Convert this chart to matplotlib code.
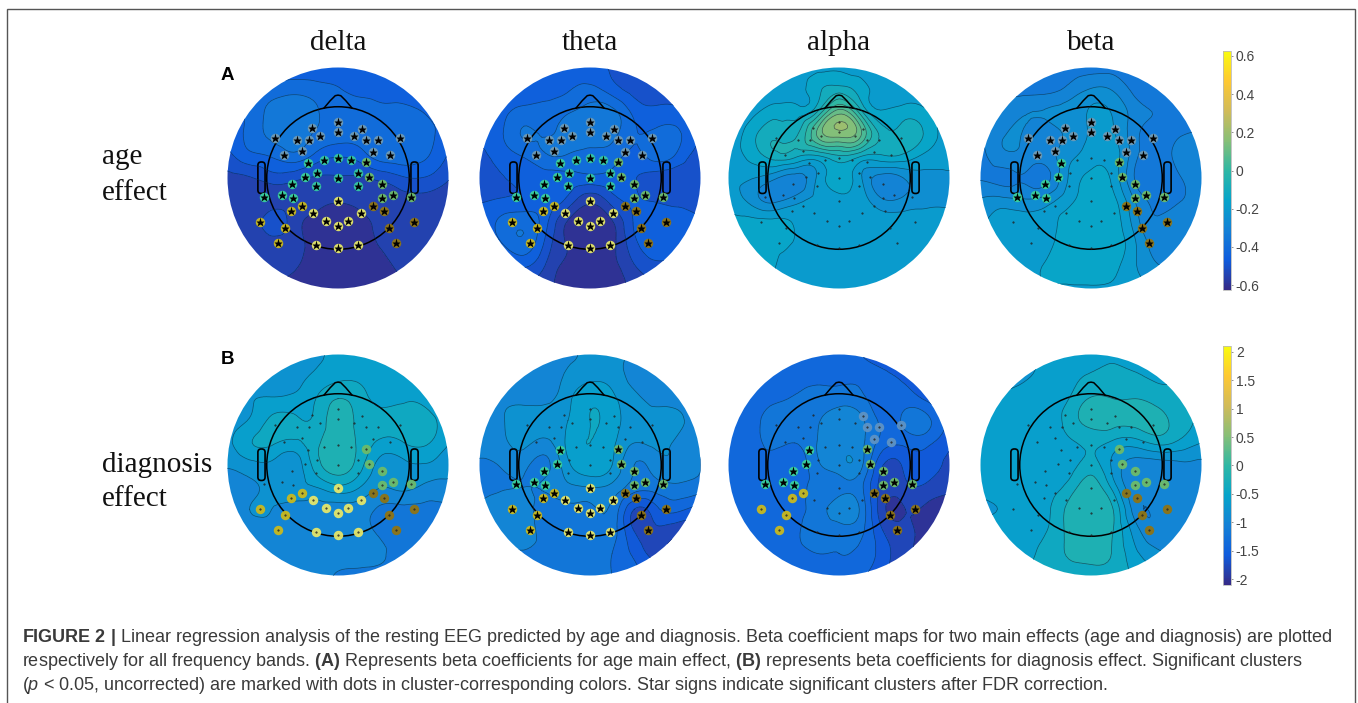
import numpy as np
import matplotlib
matplotlib.use("Agg")
import matplotlib.pyplot as plt
import matplotlib.tri as mtri
from matplotlib.colors import LinearSegmentedColormap, Normalize
from matplotlib.cm import ScalarMappable
from matplotlib.patches import Circle, FancyBboxPatch, Rectangle

W, H = 1358, 703

bands = ["delta", "theta", "alpha", "beta"]
row_labels = ["age\neffect", "diagnosis\neffect"]
age_ticks = [-0.6, -0.4, -0.2, 0, 0.2, 0.4, 0.6]
age_tick_labels = ["-0.6", "-0.4", "-0.2", "0", "0.2", "0.4", "0.6"]
diag_ticks = [-2, -1.5, -1, -0.5, 0, 0.5, 1, 1.5, 2]
diag_tick_labels = ["-2", "-1.5", "-1", "-0.5", "0", "0.5", "1", "1.5", "2"]

# grid of the beta maps, head units, 1 = edge of the disc
grid_axis = [-1.2, -1.0, -0.8, -0.6, -0.4, -0.2, 0.0, 0.2, 0.4, 0.6, 0.8, 1.0, 1.2]

# rows go from top (y=1.2) to bottom (y=-1.2)
age_delta = [
    [-.46,-.46,-.46,-.46,-.46,-.46,-.46,-.46,-.46,-.46,-.46,-.46,-.46],
    [-.46,-.46,-.46,-.46,-.46,-.46,-.46,-.46,-.46,-.46,-.46,-.46,-.46],
    [-.45,-.44,-.41,-.40,-.39,-.40,-.42,-.44,-.45,-.46,-.46,-.46,-.46],
    [-.44,-.44,-.41,-.36,-.35,-.37,-.40,-.40,-.41,-.41,-.43,-.45,-.46],
    [-.46,-.45,-.41,-.36,-.35,-.38,-.40,-.40,-.39,-.40,-.41,-.46,-.48],
    [-.50,-.49,-.44,-.42,-.39,-.44,-.47,-.45,-.40,-.40,-.42,-.48,-.50],
    [-.55,-.54,-.53,-.50,-.51,-.53,-.53,-.53,-.51,-.48,-.48,-.52,-.54],
    [-.57,-.565,-.56,-.55,-.55,-.56,-.57,-.56,-.55,-.54,-.54,-.55,-.56],
    [-.56,-.56,-.56,-.50,-.55,-.59,-.60,-.59,-.56,-.55,-.55,-.55,-.55],
    [-.56,-.56,-.55,-.55,-.56,-.59,-.60,-.59,-.57,-.55,-.55,-.55,-.55],
    [-.56,-.56,-.56,-.56,-.57,-.59,-.60,-.60,-.59,-.56,-.55,-.55,-.55],
    [-.57,-.57,-.57,-.58,-.59,-.60,-.60,-.60,-.60,-.58,-.57,-.57,-.57],
    [-.57,-.57,-.57,-.58,-.59,-.60,-.60,-.60,-.60,-.58,-.57,-.57,-.57],
]
age_theta = [
    [-.45,-.45,-.45,-.45,-.45,-.45,-.46,-.48,-.50,-.50,-.50,-.50,-.50],
    [-.45,-.45,-.45,-.45,-.45,-.45,-.46,-.48,-.50,-.50,-.50,-.50,-.50],
    [-.45,-.45,-.45,-.44,-.44,-.43,-.41,-.45,-.49,-.50,-.51,-.51,-.51],
    [-.46,-.46,-.44,-.41,-.41,-.38,-.36,-.36,-.44,-.46,-.46,-.50,-.51],
    [-.48,-.46,-.43,-.37,-.38,-.35,-.35,-.36,-.42,-.41,-.42,-.47,-.51],
    [-.50,-.49,-.45,-.42,-.38,-.38,-.39,-.40,-.44,-.40,-.44,-.50,-.52],
    [-.50,-.50,-.48,-.46,-.45,-.44,-.44,-.44,-.47,-.50,-.51,-.50,-.50],
    [-.49,-.48,-.47,-.46,-.45,-.49,-.56,-.50,-.47,-.48,-.49,-.50,-.50],
    [-.47,-.46,-.41,-.39,-.46,-.58,-.60,-.58,-.47,-.45,-.45,-.47,-.50],
    [-.49,-.48,-.43,-.39,-.49,-.58,-.60,-.59,-.49,-.45,-.45,-.49,-.52],
    [-.50,-.50,-.49,-.47,-.53,-.59,-.60,-.59,-.53,-.49,-.50,-.52,-.54],
    [-.52,-.52,-.52,-.53,-.56,-.60,-.61,-.60,-.56,-.54,-.54,-.54,-.55],
    [-.52,-.52,-.52,-.53,-.56,-.60,-.61,-.60,-.56,-.54,-.54,-.54,-.55],
]
age_alpha = [
    [-.20,-.20,-.20,-.20,-.20,-.20,-.20,-.20,-.20,-.20,-.20,-.20,-.20],
    [-.20,-.20,-.20,-.20,-.20,-.19,-.18,-.20,-.20,-.20,-.20,-.20,-.20],
    [-.20,-.20,-.20,-.20,-.20,-.14,-.10,-.15,-.20,-.20,-.20,-.20,-.20],
    [-.20,-.20,-.19,-.15,-.15,-.08,.10,-.06,-.17,-.15,-.17,-.20,-.20],
    [-.20,-.20,-.15,-.09,-.09,.08,.155,.08,-.10,-.10,-.14,-.20,-.20],
    [-.20,-.20,-.16,-.10,-.11,-.13,-.08,-.12,-.13,-.14,-.19,-.20,-.20],
    [-.21,-.21,-.22,-.26,-.30,-.22,-.15,-.22,-.30,-.27,-.24,-.24,-.24],
    [-.20,-.20,-.24,-.29,-.25,-.21,-.19,-.20,-.27,-.26,-.24,-.24,-.24],
    [-.16,-.16,-.16,-.16,-.18,-.20,-.20,-.20,-.20,-.20,-.20,-.20,-.20],
    [-.16,-.16,-.16,-.16,-.18,-.20,-.20,-.20,-.20,-.20,-.20,-.20,-.20],
    [-.16,-.16,-.16,-.17,-.20,-.20,-.20,-.20,-.20,-.20,-.20,-.20,-.20],
    [-.20,-.20,-.20,-.20,-.20,-.20,-.20,-.20,-.20,-.20,-.20,-.20,-.20],
    [-.20,-.20,-.20,-.20,-.20,-.20,-.20,-.20,-.20,-.20,-.20,-.20,-.20],
]
age_beta = [
    [-.34,-.34,-.34,-.34,-.34,-.34,-.34,-.34,-.35,-.36,-.36,-.36,-.36],
    [-.34,-.34,-.34,-.34,-.34,-.34,-.34,-.34,-.35,-.36,-.36,-.36,-.36],
    [-.34,-.34,-.34,-.34,-.34,-.31,-.27,-.28,-.34,-.36,-.36,-.36,-.36],
    [-.34,-.34,-.31,-.28,-.27,-.25,-.22,-.23,-.30,-.33,-.35,-.35,-.35],
    [-.34,-.33,-.28,-.28,-.30,-.26,-.22,-.22,-.31,-.34,-.33,-.32,-.32],
    [-.34,-.34,-.29,-.29,-.30,-.24,-.20,-.20,-.31,-.35,-.31,-.30,-.32],
    [-.34,-.33,-.34,-.33,-.34,-.22,-.16,-.19,-.33,-.36,-.33,-.30,-.36],
    [-.29,-.27,-.26,-.27,-.25,-.19,-.14,-.16,-.28,-.34,-.33,-.30,-.30],
    [-.25,-.23,-.20,-.20,-.20,-.15,-.14,-.15,-.25,-.32,-.29,-.30,-.30],
    [-.22,-.20,-.20,-.20,-.19,-.14,-.13,-.14,-.22,-.30,-.30,-.30,-.30],
    [-.21,-.20,-.20,-.19,-.17,-.15,-.14,-.16,-.22,-.27,-.29,-.30,-.30],
    [-.20,-.20,-.20,-.19,-.18,-.18,-.18,-.18,-.20,-.24,-.27,-.28,-.28],
    [-.20,-.20,-.20,-.19,-.18,-.18,-.18,-.18,-.20,-.24,-.27,-.28,-.28],
]
diag_delta = [
    [-.95,-.95,-.95,-.90,-.85,-.75,-.65,-.65,-.65,-.65,-.65,-.65,-.65],
    [-.95,-.95,-.95,-.90,-.85,-.75,-.65,-.65,-.65,-.65,-.65,-.65,-.65],
    [-.85,-.85,-.85,-.85,-.78,-.65,-.55,-.55,-.63,-.65,-.65,-.65,-.65],
    [-.85,-.80,-.72,-.68,-.65,-.50,-.30,-.42,-.55,-.52,-.55,-.65,-.70],
    [-.80,-.75,-.68,-.45,-.45,-.45,-.18,-.38,-.45,-.45,-.45,-.60,-.75],
    [-.80,-.75,-.52,-.47,-.55,-.35,-.20,-.35,-.55,-.50,-.48,-.68,-.80],
    [-.85,-.88,-.78,-.75,-.82,-.40,-.20,-.42,-.80,-.75,-.72,-.85,-.95],
    [-.95,-.95,-.92,-.85,-.75,-.70,-.55,-.70,-.90,-.85,-.95,-.95,-.95],
    [-.95,-.92,-.90,-.90,-1.0,-1.0,-1.0,-1.0,-1.15,-1.15,-1.15,-1.15,-1.15],
    [-.95,-.95,-.95,-.95,-1.0,-1.0,-1.0,-1.0,-1.15,-1.15,-1.15,-1.15,-1.15],
    [-1.0,-1.0,-1.0,-1.0,-1.0,-1.0,-1.0,-1.0,-1.08,-1.15,-1.15,-1.15,-1.15],
    [-1.0,-1.0,-1.0,-1.0,-1.0,-1.02,-1.12,-1.15,-1.15,-1.15,-1.15,-1.15,-1.15],
    [-1.0,-1.0,-1.0,-1.0,-1.0,-1.02,-1.12,-1.15,-1.15,-1.15,-1.15,-1.15,-1.15],
]
diag_theta = [
    [-1.0,-1.0,-1.0,-1.0,-1.0,-.95,-.85,-.85,-.95,-1.05,-1.0,-1.0,-1.0],
    [-1.0,-1.0,-1.0,-1.0,-1.0,-.95,-.85,-.85,-.95,-1.05,-1.05,-1.05,-1.05],
    [-1.05,-1.05,-1.05,-1.05,-1.05,-.85,-.75,-.78,-.95,-.95,-1.05,-1.05,-1.05],
    [-1.05,-1.0,-.95,-.95,-.95,-.75,-.55,-.65,-.85,-.95,-1.0,-1.05,-1.05],
    [-1.05,-1.0,-.92,-.82,-.82,-.70,-.50,-.60,-.80,-.80,-.85,-1.0,-1.05],
    [-1.05,-1.0,-.95,-.85,-.95,-.65,-.50,-.65,-.90,-.85,-.95,-1.05,-1.15],
    [-1.15,-1.15,-1.08,-1.05,-1.15,-.75,-.55,-.70,-1.1,-1.0,-.95,-1.1,-1.2],
    [-1.2,-1.15,-1.12,-1.1,-1.08,-.95,-.90,-.95,-1.2,-1.2,-1.15,-1.2,-1.3],
    [-1.1,-1.08,-1.0,-1.0,-1.2,-1.15,-1.15,-1.15,-1.7,-1.55,-1.45,-1.6,-1.7],
    [-1.15,-1.12,-1.05,-1.0,-1.18,-1.15,-1.15,-1.2,-1.7,-1.75,-1.85,-1.85,-1.85],
    [-1.2,-1.2,-1.15,-1.12,-1.15,-1.15,-1.15,-1.3,-1.55,-1.8,-1.9,-1.9,-1.9],
    [-1.2,-1.2,-1.2,-1.2,-1.2,-1.2,-1.25,-1.3,-1.45,-1.55,-1.7,-1.9,-1.9],
    [-1.2,-1.2,-1.2,-1.2,-1.2,-1.2,-1.25,-1.3,-1.45,-1.55,-1.7,-1.9,-1.9],
]
diag_alpha = [
    [-1.45,-1.45,-1.45,-1.4,-1.35,-1.35,-1.35,-1.5,-1.62,-1.75,-1.85,-1.9,-1.9],
    [-1.45,-1.45,-1.45,-1.4,-1.35,-1.35,-1.35,-1.5,-1.62,-1.75,-1.85,-1.9,-1.9],
    [-1.45,-1.45,-1.4,-1.35,-1.35,-1.35,-1.35,-1.35,-1.45,-1.55,-1.75,-1.8,-1.85],
    [-1.48,-1.45,-1.38,-1.33,-1.28,-1.2,-1.18,-1.25,-1.4,-1.4,-1.55,-1.7,-1.8],
    [-1.5,-1.45,-1.38,-1.22,-1.2,-1.12,-1.0,-1.05,-1.35,-1.25,-1.25,-1.55,-1.75],
    [-1.5,-1.45,-1.4,-1.25,-1.3,-1.1,-.98,-1.05,-1.4,-1.45,-1.45,-1.65,-1.8],
    [-1.45,-1.4,-1.38,-1.38,-1.45,-1.15,-.98,-1.05,-1.7,-1.65,-1.6,-1.75,-1.85],
    [-1.45,-1.4,-1.38,-1.35,-1.35,-1.25,-1.18,-1.25,-1.8,-1.75,-1.75,-1.85,-1.95],
    [-1.5,-1.42,-1.38,-1.35,-1.35,-1.2,-1.0,-1.15,-1.85,-1.9,-1.95,-2.0,-2.0],
    [-1.5,-1.45,-1.4,-1.35,-1.33,-1.22,-1.2,-1.25,-1.7,-1.85,-2.0,-2.02,-2.05],
    [-1.5,-1.48,-1.45,-1.4,-1.35,-1.3,-1.3,-1.35,-1.6,-1.85,-2.0,-2.05,-2.05],
    [-1.5,-1.5,-1.5,-1.45,-1.42,-1.4,-1.4,-1.45,-1.7,-1.9,-2.05,-2.05,-2.05],
    [-1.5,-1.5,-1.5,-1.45,-1.42,-1.4,-1.4,-1.45,-1.7,-1.9,-2.05,-2.05,-2.05],
]
diag_beta = [
    [-.75,-.75,-.75,-.72,-.68,-.60,-.52,-.52,-.52,-.52,-.55,-.58,-.60],
    [-.75,-.75,-.75,-.72,-.68,-.60,-.52,-.52,-.52,-.52,-.55,-.58,-.60],
    [-.78,-.78,-.78,-.72,-.65,-.55,-.48,-.45,-.48,-.52,-.52,-.52,-.55],
    [-.75,-.72,-.66,-.62,-.60,-.50,-.28,-.30,-.30,-.38,-.45,-.48,-.52],
    [-.65,-.62,-.62,-.62,-.60,-.42,-.22,-.22,-.22,-.22,-.40,-.52,-.52],
    [-.65,-.62,-.62,-.62,-.62,-.55,-.45,-.55,-.60,-.45,-.55,-.70,-.75],
    [-.65,-.62,-.62,-.62,-.62,-.60,-.42,-.75,-1.0,-1.0,-.95,-.95,-.95],
    [-.65,-.62,-.62,-.62,-.60,-.42,-.20,-.58,-1.05,-1.0,-1.0,-1.0,-1.0],
    [-.75,-.75,-.68,-.64,-.55,-.25,-.15,-.30,-1.0,-1.05,-1.05,-1.0,-1.0],
    [-.60,-.60,-.60,-.58,-.50,-.25,-.15,-.30,-.80,-1.05,-1.05,-1.0,-1.0],
    [-.58,-.58,-.58,-.55,-.42,-.28,-.22,-.32,-.65,-.85,-1.0,-1.0,-1.0],
    [-.55,-.55,-.55,-.50,-.42,-.38,-.38,-.40,-.55,-.70,-.80,-.85,-.85],
    [-.55,-.55,-.55,-.50,-.42,-.38,-.38,-.40,-.55,-.70,-.80,-.85,-.85],
]

# electrode positions per cluster, head units
front_l_x = [-.236,-.573,-.373,-.264,-.161,-.485,-.330,0,0,.145]
front_l_y = [.448,.361,.348,.348,.379,.206,.242,.509,.412,.379]
front_r_x = [.221,.252,.358,.558,.318,.470]
front_r_y = [.445,.345,.348,.361,.239,.206]
mid_c_x = [-.130,0,.118,-.191,.179,0,-.197,.185]
mid_c_y = [.161,.185,.161,.048,.048,-.003,-.076,-.076]
mid_l_x = [-.267,-.30,-.412,-.67,-.506,-.406]
mid_l_y = [.139,.012,-.052,-.173,-.158,-.179]
mid_r_x = [.252,.285,.40,.394,.494,.658]
mid_r_y = [.142,.012,-.052,-.179,-.158,-.17]
post_c_x = [0,-.227,.212,-.106,.091,0,-.20,0,.185]
post_c_y = [-.206,-.321,-.321,-.391,-.391,-.43,-.609,-.63,-.609]
post_l_x = [-.327,-.424,-.709,-.479,-.542]
post_l_y = [-.252,-.303,-.40,-.448,-.585]
post_r_x = [.315,.412,.461,.691,.527]
post_r_y = [-.252,-.303,-.448,-.40,-.585]

clusters = {
    "front_l": (front_l_x, front_l_y, "#6e9ab5"),
    "front_r": (front_r_x, front_r_y, "#6e9ab5"),
    "mid_c": (mid_c_x, mid_c_y, "#35c6a2"),
    "mid_l": (mid_l_x, mid_l_y, "#3ad09c"),
    "mid_r": (mid_r_x, mid_r_y, "#6dbb6a"),
    "post_c": (post_c_x, post_c_y, "#e4e66a"),
    "post_l": (post_l_x, post_l_y, "#c9b91e"),
    "post_r": (post_r_x, post_r_y, "#8f7414"),
}

all_groups = list(clusters)
centre_x = [338, 590, 839, 1091]
centre_y = [178, 465]
radius = 110.5

plt.rcParams['font.family'] = ['Liberation Sans', 'DejaVu Sans']
plt.rcParams['mathtext.fontset'] = 'custom'
plt.rcParams['mathtext.rm'] = 'Liberation Sans'
plt.rcParams['mathtext.bf'] = 'Liberation Sans:bold'
plt.rcParams['mathtext.it'] = 'Liberation Sans:italic'

parula = LinearSegmentedColormap.from_list("parula", [
    "#352a87", "#0f5cdd", "#1481d6", "#06a4ca", "#2eb7a4",
    "#87bf77", "#d1bb59", "#fec832", "#f9fb0e"])
age_norm = Normalize(-0.625, 0.625)
diag_norm = Normalize(-2.1, 2.1)
age_levels = np.arange(-0.725, 0.73, 0.05)
diag_levels = np.arange(-2.5, 2.51, 0.2)

gx, gy = np.meshgrid(grid_axis, grid_axis[::-1])
triang = mtri.Triangulation(gx.ravel(), gy.ravel())
refiner = mtri.UniformTriRefiner(triang)


def px_axes(x0, y0, x1, y1):
    # pixel box to a figure axes, y counted from the top
    return fig.add_axes([x0 / W, 1 - y1 / H, (x1 - x0) / W, (y1 - y0) / H])


def fig_text(x, y, s, **kw):
    fig.text(x / W, 1 - y / H, s, **kw)


def draw_head(ax):
    ax.add_patch(Circle((0, 0), 0.645, fc='none', ec='black', lw=1.1))
    ax.plot([-.125, -.07, -.025, 0, .025, .07, .125], [.635, .70, .745, .75, .745, .70, .635],
            color='black', lw=1.1)
    for ex in [-.725, .66]:
        ax.add_patch(FancyBboxPatch((ex + .02, -.12), .025, .245,
                                    boxstyle="round,pad=0.02,rounding_size=0.03",
                                    fc='none', ec='black', lw=1.2))


def draw_map(cx, cy, values, levels, norm, stars, dots, faint=False):
    k = 1.02
    ax = px_axes(cx - k * radius, cy - k * radius, cx + k * radius, cy + k * radius)
    ax.set_xlim(-k, k)
    ax.set_ylim(-k, k)
    ax.axis('off')
    disc = Circle((0, 0), 1.0, transform=ax.transData)
    tri_fine, z_fine = refiner.refine_field(np.array(values).ravel(), subdiv=3)
    filled = ax.tricontourf(tri_fine, z_fine, levels=levels, cmap=parula, norm=norm)
    filled.set_clip_path(disc)
    lines = ax.tricontour(tri_fine, z_fine, levels=levels, colors='#0b2440', linewidths=0.5,
                          linestyles='solid', alpha=0.65)
    lines.set_clip_path(disc)
    draw_head(ax)
    for g in all_groups:
        x, y, col = clusters[g]
        ax.plot(x, y, ls='none', marker='o', ms=0.5, color='#222222', zorder=5)
    for g in stars + dots:
        x, y, col = clusters[g]
        if faint and g.startswith("front"):
            col = "#5f93c4"
        ax.plot(x, y, ls='none', marker='o', ms=6.8, color=col, mec='none', zorder=4, alpha=0.95)
    for g in stars:
        x, y, col = clusters[g]
        ax.plot(x, y, ls='none', marker='*', ms=6.6, color='black', mec='none', zorder=6)


fig = plt.figure(figsize=(W / 100, H / 100), dpi=100)
fig.patch.set_facecolor('white')

# panel frame, open at the bottom of the image
fig.add_artist(Rectangle((7 / W, -0.02), (1355 - 7) / W, 1.02 - 9 / H, transform=fig.transFigure,
                         fc='none', ec='#555555', lw=1.0))

draw_map(centre_x[0], centre_y[0], age_delta, age_levels, age_norm, all_groups, [])
draw_map(centre_x[1], centre_y[0], age_theta, age_levels, age_norm, all_groups, [])
draw_map(centre_x[2], centre_y[0], age_alpha, age_levels, age_norm, [], [])
draw_map(centre_x[3], centre_y[0], age_beta, age_levels, age_norm,
         ["front_l", "front_r", "mid_l", "mid_r", "post_r"], [])
draw_map(centre_x[0], centre_y[1], diag_delta, diag_levels, diag_norm, [],
         ["mid_r", "post_c", "post_l", "post_r"])
draw_map(centre_x[1], centre_y[1], diag_theta, diag_levels, diag_norm,
         ["mid_l", "mid_r", "post_c", "post_l", "post_r"], [])
draw_map(centre_x[2], centre_y[1], diag_alpha, diag_levels, diag_norm,
         ["mid_l", "mid_r", "post_r"], ["post_l", "front_r"], faint=True)
draw_map(centre_x[3], centre_y[1], diag_beta, diag_levels, diag_norm, [], ["mid_r", "post_r"])

# colorbars
cax = px_axes(1223, 51, 1231, 290)
cb = fig.colorbar(ScalarMappable(age_norm, parula), cax=cax)
cb.set_ticks(age_ticks, labels=age_tick_labels)
cax2 = px_axes(1223, 346, 1231, 585)
cb2 = fig.colorbar(ScalarMappable(diag_norm, parula), cax=cax2)
cb2.set_ticks(diag_ticks, labels=diag_tick_labels)
for c, a in [(cb, cax), (cb2, cax2)]:
    c.outline.set_edgecolor('#bbbbbb')
    c.outline.set_linewidth(0.6)
    a.tick_params(length=1.5, width=0.5, color='#666666', labelcolor='#444444', labelsize=10, pad=2)

# headers
for x, b in zip(centre_x, bands):
    fig_text(x, 43, b, family='Liberation Serif', fontsize=21, ha='center', va='center', color='#111111')
fig_text(102, 175, row_labels[0], family='Liberation Serif', fontsize=21, ha='left', va='center',
         color='#111111', linespacing=1.45)
fig_text(102, 482, row_labels[1], family='Liberation Serif', fontsize=21, ha='left', va='center',
         color='#111111', linespacing=1.45)
fig_text(221, 75, "A", fontsize=13.5, fontweight='bold', ha='left', va='center', color='black')
fig_text(221, 359, "B", fontsize=13.5, fontweight='bold', ha='left', va='center', color='black')

# caption
caption_1 = r"$\mathbf{FIGURE\ 2\ |}$ Linear regression analysis of the resting EEG predicted by age and diagnosis. Beta coefficient maps for two main effects (age and diagnosis) are plotted"
caption_2 = r"respectively for all frequency bands. $\mathbf{(A)}$ Represents beta coefficients for age main effect, $\mathbf{(B)}$ represents beta coefficients for diagnosis effect. Significant clusters"
caption_3 = r"($\mathit{p}$ < 0.05, uncorrected) are marked with dots in cluster-corresponding colors. Star signs indicate significant clusters after FDR correction."
for y, s in zip([638, 662, 686], [caption_1, caption_2, caption_3]):
    fig_text(22, y, s, fontsize=13, ha='left', va='center', color='#3a3a3a')

fig.savefig("out.png", dpi=100)
